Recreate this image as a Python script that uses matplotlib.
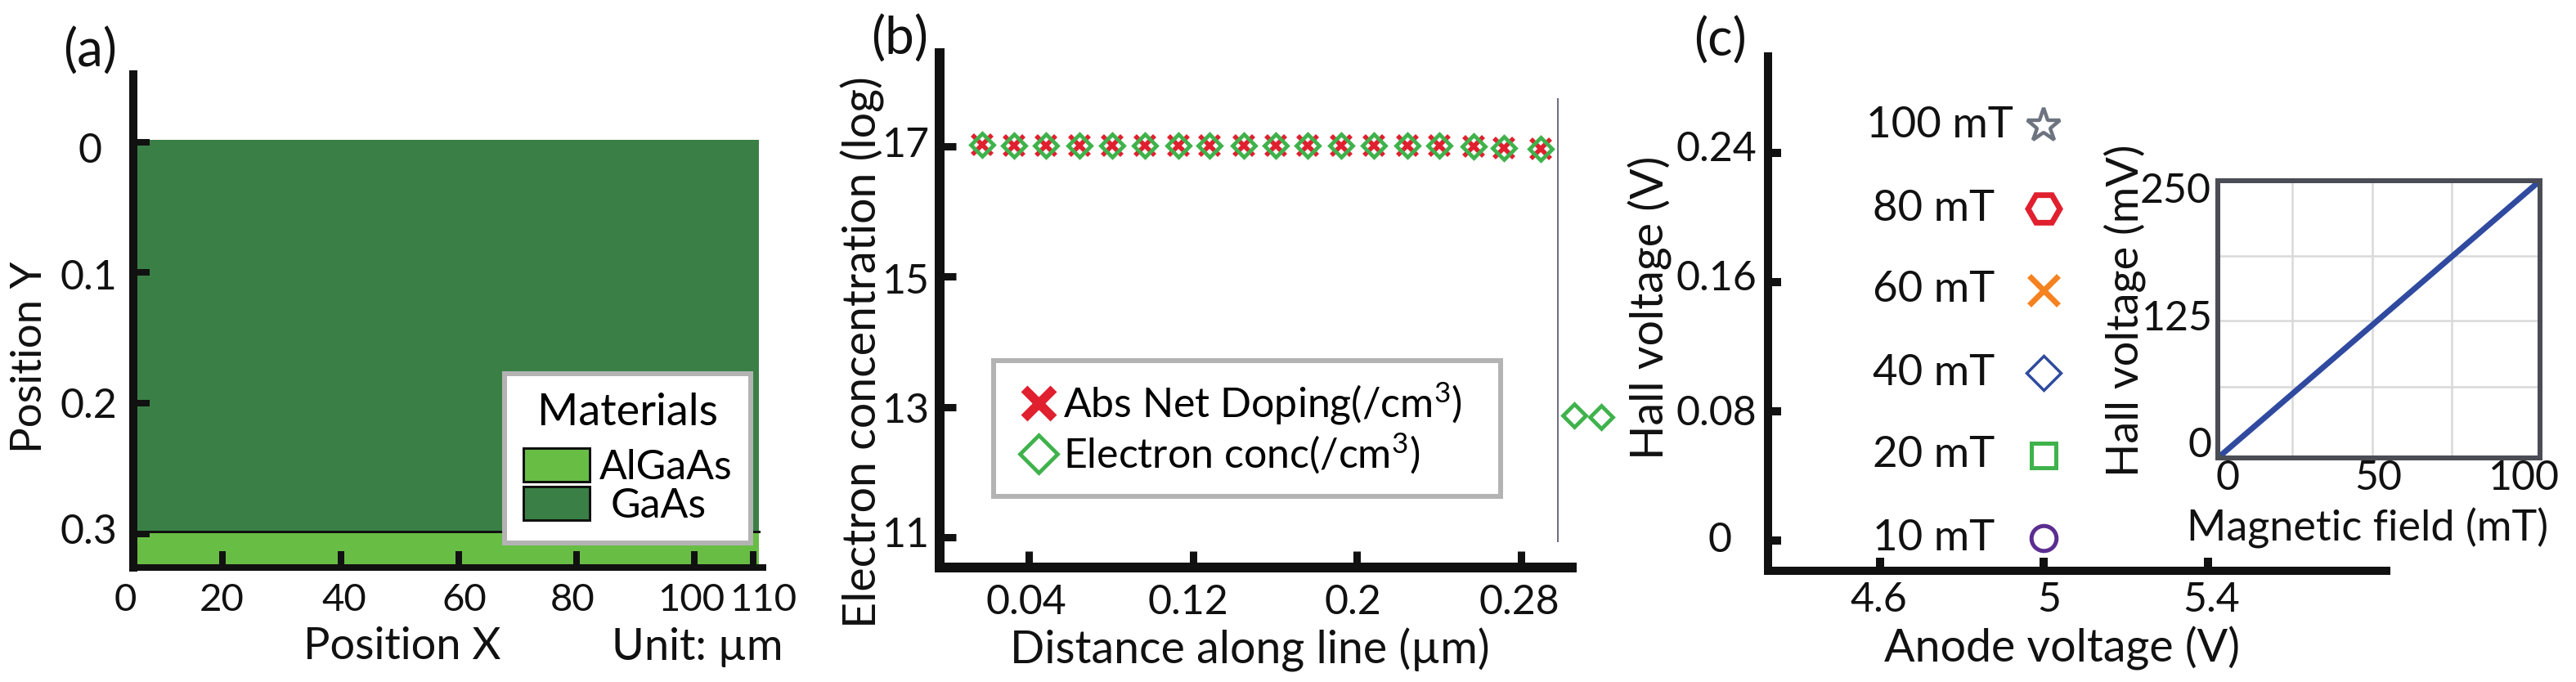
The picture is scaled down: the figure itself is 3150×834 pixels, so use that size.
import matplotlib
matplotlib.use('Agg')
import matplotlib.pyplot as plt
from matplotlib.lines import Line2D
from matplotlib.patches import Patch, Rectangle
from matplotlib.transforms import ScaledTranslation

W, H = 3150, 834
plt.rcParams['font.family'] = ['Lato', 'DejaVu Sans']
plt.rcParams['mathtext.default'] = 'regular'
plt.rcParams['font.size'] = 36

# (a) device layers
layer_names = ['GaAs', 'AlGaAs']
layer_top = [-0.002, 0.2985]
layer_bottom = [0.2985, 0.326]
layer_colors = ['#3a8046', '#68bd45']
a_xticks = [4.8, 20, 40, 60, 80, 100, 110]
a_xlabels = ['0', '20', '40', '60', '80', '100', '110']
a_yticks = [0, 0.1, 0.2, 0.3]
a_ylabels = ['0', '0.1', '0.2', '0.3']

# (b) doping and electron concentration
b_x = [0.0171, 0.0329, 0.0484, 0.0647, 0.0805, 0.0965, 0.1128, 0.1283, 0.1449,
       0.1604, 0.1759, 0.1925, 0.2085, 0.2248, 0.2403, 0.2571, 0.2719, 0.2899]
b_doping = [17.03, 17.01, 17.01, 17.01, 17.01, 17.01, 17.01, 17.01, 17.01,
            17.01, 17.01, 17.01, 17.01, 17.01, 17.01, 17.0, 16.97, 16.96]
b_elec_x = b_x + [0.3059, 0.3194]
b_elec = b_doping + [12.87, 12.85]
b_xticks = [0.04, 0.12, 0.2, 0.28]
b_xlabels = ['0.04', '0.12', '0.2', '0.28']
b_yticks = [17, 15, 13, 11]

# (c) Hall voltage at 5 V anode
c_names = ['100 mT', '80 mT', '60 mT', '40 mT', '20 mT', '10 mT']
c_anode = [5.0, 5.0, 5.0, 5.0, 5.0, 5.0]
c_hall = [0.2567, 0.2055, 0.155, 0.1038, 0.0527, 0.0015]
c_markers = ['*', 'H', 'x', 'D', 's', 'o']
c_colors = ['#6d7480', '#e0202f', '#f58220', '#2e4a9e', '#3fb24b', '#5b2d90']
c_sizes = [31, 28, 26, 21, 22, 22]
c_edges = [3.2, 5, 5, 2.5, 3.6, 3.6]
c_xticks = [4.6, 5, 5.4]
c_xlabels = ['4.6', '5', '5.4']
c_yticks = [0.24, 0.16, 0.08, 0]
c_ylabels = ['0.24', '0.16', '0.08', '0']

# (c) inset
ins_field = [0, 10, 20, 40, 60, 80, 100]
ins_hall = [0, 25, 50, 100, 150, 200, 250]
ins_xgrid = [23.1, 48, 72.7]
ins_ygrid = [64, 124, 182]


def pt(px):
    return px * 72 / 100


def axes_px(x0, y_top, x1, y_bottom):
    return fig.add_axes([x0 / W, 1 - y_bottom / H, (x1 - x0) / W, (y_bottom - y_top) / H])


def shift(labels, offsets):
    # move tick labels by pixels, dy counted downwards
    for lab, (dx, dy) in zip(labels, offsets):
        lab.set_ha('center')
        lab.set_va('center')
        lab.set_transform(lab.get_transform() + ScaledTranslation(pt(dx) / 72, -pt(dy) / 72, fig.dpi_scale_trans))


def style(ax, lw_left, lw_bottom, tick_w, tick_l):
    ax.spines['top'].set_visible(False)
    ax.spines['right'].set_visible(False)
    ax.spines['left'].set_linewidth(pt(lw_left))
    ax.spines['bottom'].set_linewidth(pt(lw_bottom))
    ax.spines['left'].set_color('#111111')
    ax.spines['bottom'].set_color('#111111')
    ax.tick_params(direction='in', width=pt(tick_w), length=pt(tick_l), pad=0, color='#111111', labelcolor='#111111')


def place_labels(ax, xlab, xpos, xsize, ylab, ypos, ysize):
    ax.set_xlabel(xlab, va='center', fontsize=xsize, color='#111111')
    ax.set_ylabel(ylab, va='center', fontsize=ysize, color='#111111')
    ax.xaxis.set_label_coords(xpos[0] / W, 1 - xpos[1] / H, transform=fig.transFigure)
    ax.yaxis.set_label_coords(ypos[0] / W, 1 - ypos[1] / H, transform=fig.transFigure)


fig = plt.figure(figsize=(W / 100, H / 100), dpi=100)

# panel a
ax = axes_px(163, 91, 933, 694)
style(ax, 10, 8, 8, 20)
ax.set_xlim(4.8, 111.7)
ax.set_ylim(0.326, -0.052)
for top, bottom, col in zip(layer_top, layer_bottom, layer_colors):
    ax.add_patch(Rectangle((4.8, top), 111 - 4.8, bottom - top, facecolor=col, edgecolor='none'))
ax.plot([4.8, 111], [layer_top[1], layer_top[1]], color='#111111', lw=pt(3))
ax.set_xticks(a_xticks, a_xlabels)
ax.set_yticks(a_yticks, a_ylabels)
ax.tick_params(axis='x', labelsize=34)
shift(ax.get_xticklabels(), [(-10, 40), (-1, 40), (4, 40), (7, 40), (-5, 40), (-4, 40), (12, 40)])
shift(ax.get_yticklabels(), [(-53, 11), (-55, 7), (-55, 4), (-55, -2)])
place_labels(ax, 'Position X', (492, 790), 39, 'Position Y', (37, 437), 38)
fig.text(853 / W, 1 - 792 / H, 'Unit: µm', ha='center', va='center', color='#111111', fontsize=39)
handles = [Patch(facecolor=layer_colors[1], edgecolor='#111111', linewidth=pt(3)),
           Patch(facecolor=layer_colors[0], edgecolor='#111111', linewidth=pt(3))]
leg = ax.legend(handles, [layer_names[1], layer_names[0]], title='Materials', loc='upper left',
                bbox_to_anchor=(617 / W, 1 - 457 / H), bbox_transform=fig.transFigure, borderaxespad=0,
                fancybox=False, framealpha=1, edgecolor='#b3b3b3', labelspacing=0, handlelength=1.62,
                handleheight=0.9, handletextpad=0.25, borderpad=0.45, fontsize=36, title_fontsize=39)
leg.get_frame().set_linewidth(pt(6))
leg._legend_box.sep = 14
leg.get_texts()[1].set_position((14, 0))

# panel b
ax = axes_px(1149, 65, 1922, 694)
style(ax, 12, 12, 9, 20)
ax.set_xlim(-0.0035, 0.3049)
ax.set_ylim(10.54, 18.43)
ax.plot([0.2983, 0.2983], [10.94, 17.73], color='#6c7080', lw=pt(2))
ax.plot(b_x, b_doping, ls='none', marker='x', ms=17, mew=4, color='#e0202f')
ax.plot(b_elec_x, b_elec, ls='none', marker='D', ms=14, mew=3.4, mfc='none', color='#3fb24b', clip_on=False)
ax.set_xticks(b_xticks, b_xlabels)
ax.set_yticks(b_yticks, [str(v) for v in b_yticks])
shift(ax.get_xticklabels(), [(-3, 43), (-6, 43), (-5, 43), (-2, 43)])
shift(ax.get_yticklabels(), [(-41, -1), (-41, 7), (-41, 5), (-41, -2)])
place_labels(ax, 'Distance along line (µm)', (1528, 795), 40, 'Electron concentration (log)', (1055, 431), 40)
handles = [Line2D([], [], ls='none', marker='x', ms=26, mew=8, color='#e0202f'),
           Line2D([], [], ls='none', marker='D', ms=23, mew=3.4, mfc='none', color='#3fb24b')]
leg = ax.legend(handles, ['Abs Net Doping(/cm$^3$)', 'Electron conc(/cm$^3$)'], loc='upper left',
                bbox_to_anchor=(1215 / W, 1 - 603 / H, 620 / W, 162 / H), bbox_transform=fig.transFigure,
                borderaxespad=0, mode='expand', fancybox=False, framealpha=1, edgecolor='#b3b3b3',
                labelspacing=0.1, handlelength=1.2, handletextpad=0, borderpad=0.5, fontsize=36)
leg.get_frame().set_linewidth(pt(6))

# panel c
ax = axes_px(2162, 69, 2918, 698)
style(ax, 10, 10, 10, 16)
ax.set_xlim(4.327, 5.835)
ax.set_ylim(-0.0187, 0.2997)
for name, xv, yv, mk, col, ms, mew in zip(c_names, c_anode, c_hall, c_markers, c_colors, c_sizes, c_edges):
    ax.plot([xv], [yv], ls='none', marker=mk, ms=ms, mew=mew, mfc='none', color=col)
    ax.annotate(name, (xv, yv), xytext=(-pt(38 if name == '100 mT' else 60), 0), textcoords='offset points',
                ha='right', va='center', color='#111111', fontsize=38)
ax.set_xticks(c_xticks, c_xlabels)
ax.set_yticks(c_yticks, c_ylabels)
shift(ax.get_xticklabels(), [(-2, 36), (6, 36), (4, 36)])
shift(ax.get_yticklabels(), [(-63, -4), (-63, -4), (-63, 3), (-59, 0)])
place_labels(ax, 'Anode voltage (V)', (2522, 793), 40, 'Hall voltage (V)', (2018, 376), 40)

# inset
ins = axes_px(2712, 221, 3106, 560)
ins.set_xlim(0, 100)
ins.set_ylim(0, 250)
for s in ins.spines.values():
    s.set_linewidth(pt(6))
    s.set_color('#4a4d55')
for xv in ins_xgrid:
    ins.axvline(xv, color='#d9d9d9', lw=pt(2.5))
for yv in ins_ygrid:
    ins.axhline(yv, color='#d9d9d9', lw=pt(2.5))
ins.plot(ins_field, ins_hall, color='#2f4a9f', lw=pt(7))
ins.set_xticks([0, 50, 100], ['0', '50', '100'])
ins.set_yticks([0, 125, 250], ['0', '125', '250'])
ins.tick_params(length=0, pad=0, labelcolor='#111111')
shift(ins.get_xticklabels(), [(12, 25), (-1, 25), (-20, 25)])
shift(ins.get_yticklabels(), [(-22, -15), (-50, 0), (-52, 13)])
place_labels(ins, 'Magnetic field (mT)', (2895, 646), 37.5, 'Hall voltage (mV)', (2598, 380), 39)

# panel tags
fig.text(110 / W, 1 - 63 / H, '(a)', ha='center', va='center', color='#111111', fontsize=46)
fig.text(1100 / W, 1 - 48 / H, '(b)', ha='center', va='center', color='#111111', fontsize=46)
fig.text(2103 / W, 1 - 50 / H, '(c)', ha='center', va='center', color='#111111', fontsize=46)

fig.savefig('out.png', dpi=100)
